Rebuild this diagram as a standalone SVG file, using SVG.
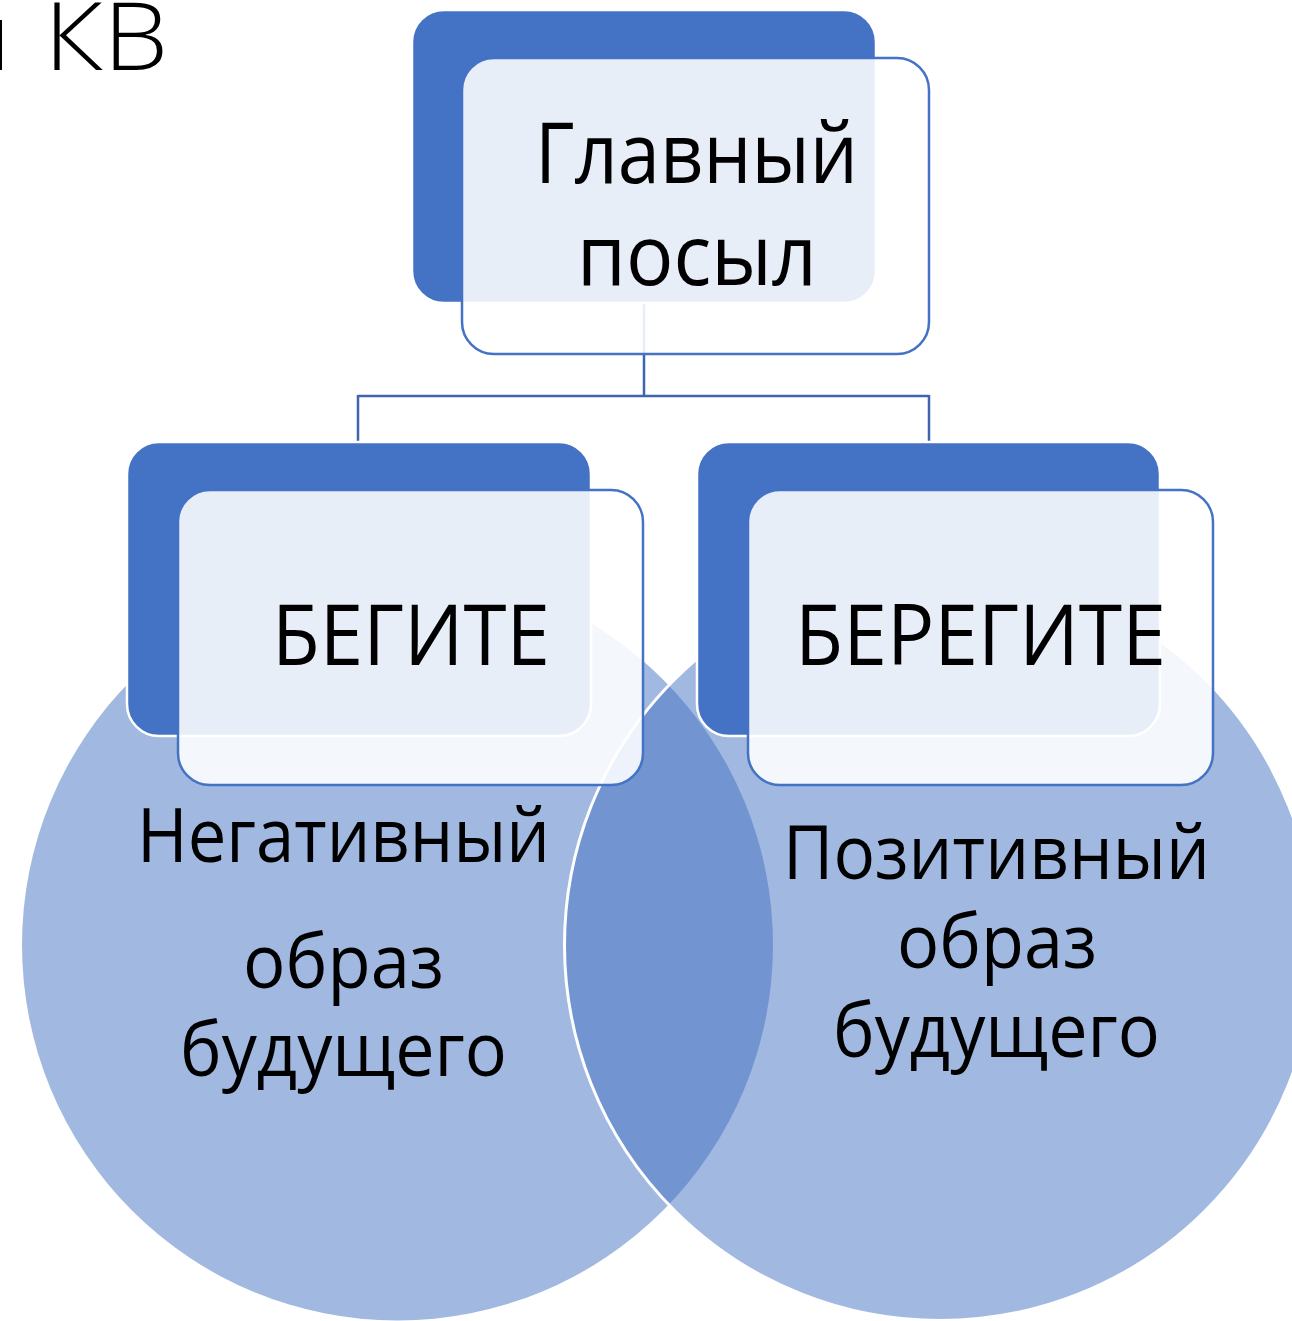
<svg xmlns="http://www.w3.org/2000/svg" width="1292" height="1321" viewBox="0 0 1292 1321">
<style>
.circ{fill:#4472C4;fill-opacity:0.5}
.back{fill:#4472C4;stroke:#FFFFFF;stroke-width:2.5}
.front{fill:#FFFFFF;fill-opacity:0.88;stroke:#4472C4;stroke-width:2.5}
.conn{fill:none;stroke:#3F65AE;stroke-width:2.5}
.t{font-family:"Open Sans","Noto Sans","DejaVu Sans",sans-serif;fill:#000000;text-anchor:middle}
.big{font-size:85px}
.mid{font-size:75px}
</style>
<rect width="1292" height="1321" fill="#FFFFFF"/>
<text y="70" font-family="'Open Sans','Noto Sans',sans-serif" font-weight="300" font-size="94" fill="#000000"><tspan x="-46">и </tspan><tspan x="44" textLength="124" lengthAdjust="spacingAndGlyphs">КВ</tspan></text>
<g id="circle-left">
<circle class="circ" cx="397.5" cy="945" r="375.5"/>
</g>
<g id="circle-right">
<circle class="circ" cx="940" cy="945" r="375.5" stroke="#FFFFFF" stroke-width="3"/>
</g>
<g id="connectors">
<path class="conn" d="M644,303 V396 M358,396 H929 M358,395 V442 M929,395 V442"/>
</g>
<g id="node-main">
<rect class="back" x="412" y="10" width="464" height="293" rx="32"/>
<rect class="front" x="462" y="58" width="467" height="296" rx="32"/>
<text class="t big" x="696.5" y="183" textLength="323" lengthAdjust="spacingAndGlyphs">Главный</text>
<text class="t big" x="697" y="285" textLength="240" lengthAdjust="spacingAndGlyphs">посыл</text>
</g>
<g id="node-begite">
<rect class="back" x="127" y="442" width="464" height="294" rx="32"/>
<rect class="front" x="178" y="490" width="465" height="295" rx="32"/>
<text class="t big" x="411" y="665" textLength="278" lengthAdjust="spacingAndGlyphs">БЕГИТЕ</text>
</g>
<g id="node-beregite">
<rect class="back" x="697" y="442" width="463" height="294" rx="32"/>
<rect class="front" x="748" y="490" width="465" height="295" rx="32"/>
<text class="t big" x="980.5" y="665" textLength="371" lengthAdjust="spacingAndGlyphs">БЕРЕГИТЕ</text>
</g>
<g id="label-negative">
<text class="t mid" x="343.5" y="862" textLength="413" lengthAdjust="spacingAndGlyphs">Негативный</text>
<text class="t mid" x="343.5" y="988" textLength="201" lengthAdjust="spacingAndGlyphs">образ</text>
<text class="t mid" x="343.5" y="1076" textLength="327" lengthAdjust="spacingAndGlyphs">будущего</text>
</g>
<g id="label-positive">
<text class="t mid" x="996.5" y="879" textLength="427" lengthAdjust="spacingAndGlyphs">Позитивный</text>
<text class="t mid" x="997" y="968" textLength="200" lengthAdjust="spacingAndGlyphs">образ</text>
<text class="t mid" x="996.5" y="1057" textLength="327" lengthAdjust="spacingAndGlyphs">будущего</text>
</g>
</svg>
